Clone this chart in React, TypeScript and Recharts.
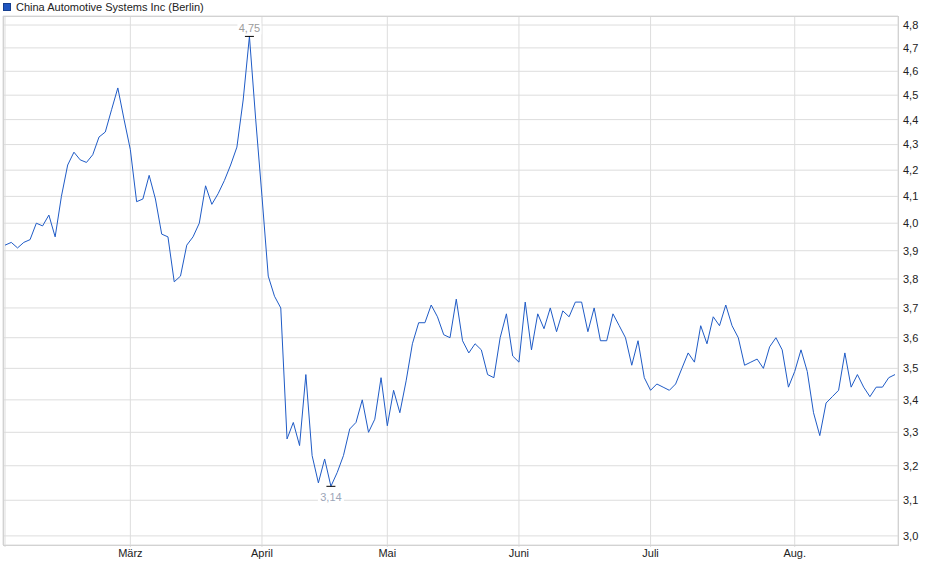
import React from "react";
import { LineChart, Line, XAxis, YAxis, CartesianGrid } from "recharts";

// Börse Berlin, daily closes Feb - Aug (EUR)
const prices = [
  3.92, 3.93, 3.91, 3.93, 3.94, 4.0, 3.99, 4.03, 3.95, 4.1,
  4.22, 4.27, 4.24, 4.23, 4.26, 4.33, 4.35, 4.44, 4.53, 4.4,
  4.28, 4.08, 4.09, 4.18, 4.09, 3.96, 3.95, 3.79, 3.81, 3.92,
  3.95, 4.0, 4.14, 4.07, 4.11, 4.16, 4.22, 4.29, 4.48, 4.75,
  4.4, 4.1, 3.81, 3.74, 3.7, 3.28, 3.33, 3.26, 3.48, 3.23,
  3.15, 3.22, 3.14, 3.18, 3.23, 3.31, 3.33, 3.4, 3.3, 3.34,
  3.47, 3.32, 3.43, 3.36, 3.46, 3.58, 3.65, 3.65, 3.71, 3.67,
  3.61, 3.6, 3.73, 3.59, 3.55, 3.58, 3.56, 3.48, 3.47, 3.6,
  3.68, 3.54, 3.52, 3.72, 3.56, 3.68, 3.63, 3.7, 3.62, 3.69,
  3.67, 3.72, 3.72, 3.62, 3.7, 3.59, 3.59, 3.68, 3.64, 3.6,
  3.51, 3.59, 3.47, 3.43, 3.45, 3.44, 3.43, 3.45, 3.5, 3.55,
  3.52, 3.64, 3.58, 3.67, 3.64, 3.71, 3.64, 3.6, 3.51, 3.52,
  3.53, 3.5, 3.57, 3.6, 3.56, 3.44, 3.49, 3.56, 3.49, 3.36,
  3.29, 3.39, 3.41, 3.43, 3.55, 3.44, 3.48, 3.44, 3.41, 3.44,
  3.44, 3.47, 3.48,
];

// first trading day of each month (index into prices)
const monthTicks = [0, 20, 41, 61, 82, 103, 126];
const monthLabels = ["", "März", "April", "Mai", "Juni", "Juli", "Aug."];

const priceTicks = [
  3.0, 3.1, 3.2, 3.3, 3.4, 3.5, 3.6, 3.7, 3.8, 3.9,
  4.0, 4.1, 4.2, 4.3, 4.4, 4.5, 4.6, 4.7, 4.8,
];

const data = prices.map((p, i) => ({ i, p }));

const hi = Math.max(...prices);
const lo = Math.min(...prices);
const hiIdx = prices.indexOf(hi);
const loIdx = prices.indexOf(lo);

const fmt = (v: number, d = 1) => v.toFixed(d).replace(".", ",");

const FONT = "Arial, 'Liberation Sans', sans-serif";

const renderDot = (props: any) => {
  const { cx, cy, index } = props;
  if (index === hiIdx) {
    return (
      <g key="hi">
        <rect x={cx - 12} y={cy - 13} width={24} height={11} fill="#fff" />
        <text x={cx} y={cy - 4} textAnchor="middle" fontSize={11} fill="#9c9c9c" fontFamily={FONT}>
          {fmt(hi, 2)}
        </text>
        <line x1={cx - 4.5} x2={cx + 4.5} y1={cy} y2={cy} stroke="#000" strokeWidth={1} />
      </g>
    );
  }
  if (index === loIdx) {
    return (
      <g key="lo">
        <rect x={cx - 13} y={cy + 4} width={26} height={12} fill="#fff" />
        <text x={cx} y={cy + 15} textAnchor="middle" fontSize={11} fill="#9ca6b8" fontFamily={FONT}>
          {fmt(lo, 2)}
        </text>
        <line x1={cx - 4.5} x2={cx + 4.5} y1={cy} y2={cy} stroke="#000" strokeWidth={1} />
      </g>
    );
  }
  return <g key={`d-${index}`} />;
};

export default function App() {
  return (
    <div style={{ position: "absolute", left: 0, top: 0, width: 940, height: 579, background: "#fff", fontFamily: FONT }}>
      {/* title / legend */}
      <div style={{ position: "absolute", left: 3, top: 0, height: 14, display: "flex", alignItems: "center", fontSize: 11, color: "#222" }}>
        <span style={{ display: "inline-block", width: 6, height: 6, background: "#1f55c0", border: "1px solid #163f8f", marginRight: 5 }} />
        China Automotive Systems Inc (Berlin)
      </div>

      <LineChart width={940} height={579} data={data} margin={{ top: 16, right: 0, bottom: 0, left: 3 }}>
        <CartesianGrid stroke="#dddddd" strokeWidth={1} />
        <XAxis
          dataKey="i"
          type="number"
          domain={[0, prices.length - 1]}
          ticks={monthTicks}
          tickFormatter={(v: number) => monthLabels[monthTicks.indexOf(v)] ?? ""}
          padding={{ left: 2, right: 3 }}
          height={34}
          axisLine={false}
          tickLine={{ stroke: "#dddddd" }}
          tickSize={2}
          tickMargin={2}
          interval={0}
          tick={{ fontSize: 11, fill: "#222", fontFamily: FONT }}
        />
        <YAxis
          orientation="right"
          type="number"
          scale="log"
          domain={[2.975, 4.84]}
          allowDataOverflow
          ticks={priceTicks}
          tickFormatter={(v: number) => fmt(v)}
          width={42}
          axisLine={false}
          tickLine={false}
          tickSize={3}
          tickMargin={2}
          interval={0}
          tick={{ fontSize: 11, fill: "#222", fontFamily: FONT }}
        />
        <Line
          type="linear"
          dataKey="p"
          stroke="#1f5bc6"
          strokeWidth={1}
          dot={renderDot}
          activeDot={false}
          isAnimationActive={false}
        />
      </LineChart>

      {/* plot frame */}
      <div style={{ position: "absolute", left: 3, top: 16, width: 894, height: 528, border: "1px solid #d2d2d2", pointerEvents: "none" }} />
    </div>
  );
}
